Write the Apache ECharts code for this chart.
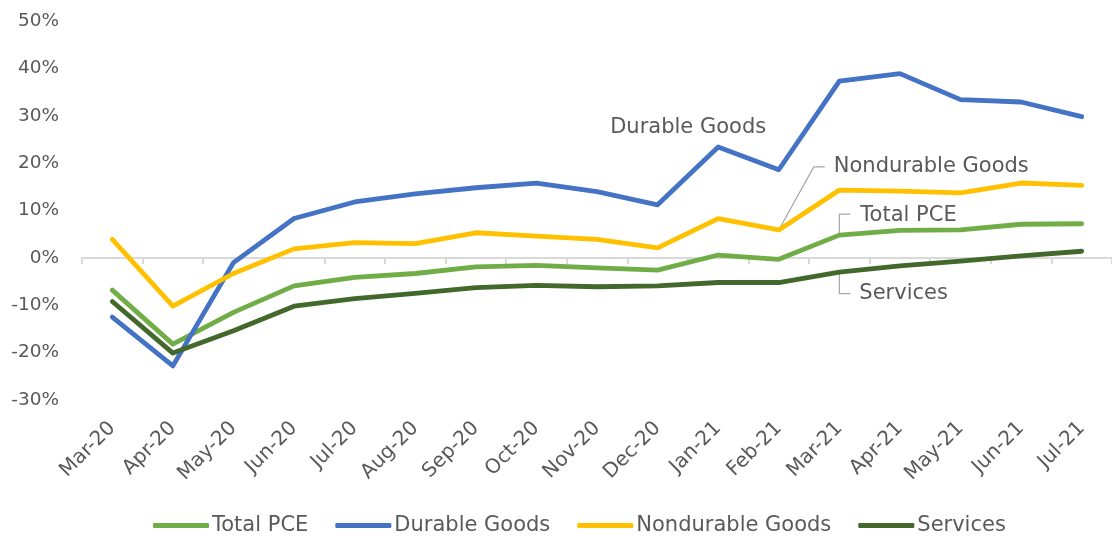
<!DOCTYPE html>
<html>
<head>
<meta charset="utf-8">
<script src="https://cdn.jsdelivr.net/npm/echarts@6/dist/echarts.min.js"></script>
<style>
  html, body { margin: 0; padding: 0; background: #ffffff; }
  #chart { width: 1112px; height: 536px; }
</style>
</head>
<body>
<div id="chart"></div>
<script>
// Monthly categories
const months = ['Mar-20', 'Apr-20', 'May-20', 'Jun-20', 'Jul-20', 'Aug-20', 'Sep-20', 'Oct-20',
  'Nov-20', 'Dec-20', 'Jan-21', 'Feb-21', 'Mar-21', 'Apr-21', 'May-21', 'Jun-21', 'Jul-21'];

// Percent change, by spending category
const totalPCE = [-6.8, -18.2, -11.5, -5.9, -4.1, -3.3, -1.9, -1.6, -2.1, -2.6, 0.6, -0.3, 4.8, 5.8, 5.9, 7.1, 7.2];
const durableGoods = [-12.5, -22.8, -1.0, 8.3, 11.8, 13.5, 14.8, 15.8, 14.0, 11.2, 23.4, 18.6, 37.3, 38.9, 33.4, 32.9, 29.8];
const nondurableGoods = [3.9, -10.2, -3.3, 1.9, 3.2, 3.0, 5.3, 4.6, 3.9, 2.1, 8.3, 5.9, 14.3, 14.1, 13.7, 15.8, 15.3];
const services = [-9.2, -20.1, -15.4, -10.2, -8.6, -7.5, -6.3, -5.8, -6.1, -5.9, -5.2, -5.2, -3.0, -1.7, -0.7, 0.4, 1.4];

// Value axis ticks (percent)
const yMin = -30;
const yMax = 50;
const yStep = 10;

const seriesNames = ['Total PCE', 'Durable Goods', 'Nondurable Goods', 'Services'];
const seriesData = [totalPCE, durableGoods, nondurableGoods, services];
const seriesColors = ['#70AD47', '#4472C4', '#FFC000', '#43682B'];

const FONT = '"DejaVu Sans", Verdana, sans-serif';
const TEXT = '#595959';
const AXIS = '#D9D9D9';
const LEADER = '#A6A6A6';

const chart = echarts.init(document.getElementById('chart'), null, { renderer: 'canvas' });

const option = {
  animation: false,
  backgroundColor: '#ffffff',
  textStyle: { fontFamily: FONT },
  grid: { left: 82, top: 21, width: 1034, bottom: 136, containLabel: false },
  legend: {
    data: seriesNames,
    left: 148,
    top: 510,
    icon: 'roundRect',
    itemWidth: 56,
    itemHeight: 5,
    itemGap: 27,
    textStyle: { color: TEXT, fontSize: 21, fontFamily: FONT, padding: [0, 0, 0, -2] }
  },
  xAxis: [
    {
      // axis line drawn through zero, with ticks between months
      type: 'category',
      data: months,
      position: 'bottom',
      boundaryGap: true,
      axisLine: { show: true, onZero: true, lineStyle: { color: AXIS, width: 2 } },
      axisTick: { show: true, length: 6, lineStyle: { color: AXIS, width: 2 } },
      axisLabel: { show: false },
      splitLine: { show: false }
    },
    {
      // month labels along the bottom of the plot
      type: 'category',
      data: months,
      position: 'bottom',
      boundaryGap: true,
      axisLine: { show: false, onZero: false },
      axisTick: { show: false },
      axisLabel: {
        interval: 0,
        rotate: 45,
        margin: 25,
        color: TEXT,
        fontSize: 20,
        fontFamily: FONT
      },
      splitLine: { show: false }
    }
  ],
  yAxis: {
    type: 'value',
    min: yMin,
    max: yMax,
    interval: yStep,
    axisLine: { show: false },
    axisTick: { show: false },
    splitLine: { show: false },
    axisLabel: {
      formatter: '{value}%',
      color: TEXT,
      fontSize: 18.5,
      fontFamily: FONT,
      margin: 23
    }
  },
  series: seriesNames.map((name, i) => ({
    name: name,
    type: 'line',
    xAxisIndex: 0,
    data: seriesData[i],
    symbol: 'none',
    color: seriesColors[i],
    lineStyle: { width: 4.8, color: seriesColors[i], cap: 'round', join: 'round' }
  }))
};

chart.setOption(option);

// In-chart series labels, placed relative to a chosen point of each series
const notes = [
  { series: 1, index: 10, text: 'Durable Goods', dx: -108, dy: -19, leader: null },
  { series: 2, index: 11, text: 'Nondurable Goods', dx: 55, dy: -63, leader: [[0, 0], [35, -63], [46, -63]] },
  { series: 0, index: 12, text: 'Total PCE', dx: 21, dy: -20, leader: [[0, 0], [0, -21], [11, -21]] },
  { series: 3, index: 12, text: 'Services', dx: 20, dy: 21.5, leader: [[0, 0], [0, 21.5], [11, 21.5]] }
];

const graphics = [];
notes.forEach(n => {
  const p = chart.convertToPixel({ xAxisIndex: 0, yAxisIndex: 0 }, [n.index, seriesData[n.series][n.index]]);
  if (n.leader) {
    graphics.push({
      type: 'polyline',
      silent: true,
      z: 1,
      shape: { points: n.leader.map(d => [p[0] + d[0], p[1] + d[1]]) },
      style: { stroke: LEADER, lineWidth: 1.2, fill: null }
    });
  }
  graphics.push({
    type: 'text',
    silent: true,
    z: 5,
    x: p[0] + n.dx,
    y: p[1] + n.dy,
    style: {
      text: n.text,
      fill: TEXT,
      fontSize: 21,
      fontFamily: FONT,
      align: 'left',
      verticalAlign: 'middle'
    }
  });
});

chart.setOption({ graphic: graphics });
</script>
</body>
</html>
